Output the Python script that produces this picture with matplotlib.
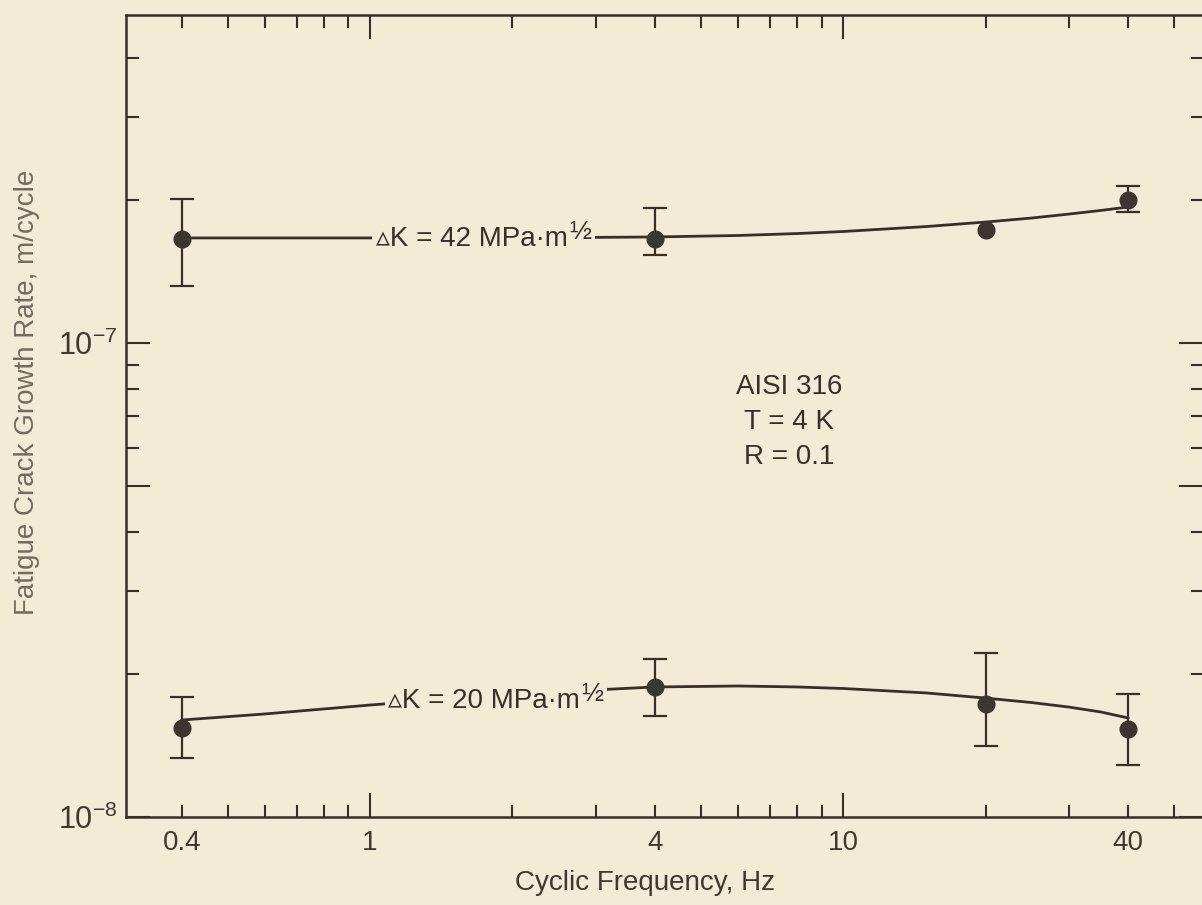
import numpy as np
import matplotlib.pyplot as plt
from matplotlib.ticker import FixedLocator, FuncFormatter, NullFormatter

plt.rcParams['font.family'] = ['Liberation Sans', 'DejaVu Sans']
plt.rcParams['mathtext.fontset'] = 'custom'
plt.rcParams['mathtext.rm'] = 'Liberation Sans'
plt.rcParams['mathtext.it'] = 'Liberation Sans:italic'

paper = '#f3ebd6'
ink = '#3b2d27'
dot = '#3d3530'

# measured points (Hz, m/cycle)
freq = [0.4, 4, 20, 40]

rate_42 = [1.66e-7, 1.66e-7, 1.73e-7, 2.00e-7]
rate_42_hi = [2.01e-7, 1.93e-7, np.nan, 2.14e-7]
rate_42_lo = [1.32e-7, 1.53e-7, np.nan, 1.89e-7]

rate_20 = [1.54e-8, 1.88e-8, 1.73e-8, 1.53e-8]
rate_20_hi = [1.79e-8, 2.15e-8, 2.22e-8, 1.82e-8]
rate_20_lo = [1.33e-8, 1.63e-8, 1.41e-8, 1.29e-8]

# hand-faired trend curves
fit_freq_42 = [0.4, 1, 2, 4, 6, 8, 10, 15, 20, 25, 30, 35, 40]
fit_rate_42 = [1.666e-7, 1.666e-7, 1.666e-7, 1.674e-7, 1.686e-7, 1.702e-7,
               1.719e-7, 1.761e-7, 1.800e-7, 1.835e-7, 1.871e-7, 1.904e-7,
               1.936e-7]
fit_freq_20 = [0.4, 0.6, 1, 2, 4, 6, 8, 10, 15, 20, 25, 30, 35, 40]
fit_rate_20 = [1.602e-8, 1.650e-8, 1.723e-8, 1.818e-8, 1.881e-8, 1.890e-8,
               1.881e-8, 1.867e-8, 1.827e-8, 1.782e-8, 1.744e-8, 1.706e-8,
               1.666e-8, 1.618e-8]

fig = plt.figure(figsize=(12.02, 9.05), dpi=100, facecolor=paper)
ax = fig.add_axes([0.1048, 0.0972, 0.8964, 0.8862], facecolor=paper)

for fx, fy in [(fit_freq_42, fit_rate_42), (fit_freq_20, fit_rate_20)]:
    ax.plot(fx, fy, color=ink, lw=2.0, solid_joinstyle='round',
            solid_capstyle='round', zorder=2)

for rate, hi, lo in [(rate_42, rate_42_hi, rate_42_lo),
                     (rate_20, rate_20_hi, rate_20_lo)]:
    rate = np.array(rate)
    yerr = [rate - np.array(lo), np.array(hi) - rate]
    ax.errorbar(freq, rate, yerr=yerr, fmt='o', color=dot, ecolor=ink,
                ms=12, elinewidth=1.6, capsize=8.5, capthick=1.6, zorder=3)

ax.set_xscale('log')
ax.set_yscale('log')
ax.set_xlim(0.305, 57.7)
ax.set_ylim(1e-8, 4.92e-7)

# x ticks: long ticks at decades, labels on 0.4, 4, 40
ax.xaxis.set_major_locator(FixedLocator([1, 10]))
ax.xaxis.set_major_formatter(FuncFormatter(lambda v, p: f'{v:g}'))
x_minor = [m * 10.0 ** e for e in (-1, 0, 1) for m in range(2, 10)]
ax.xaxis.set_minor_locator(FixedLocator(x_minor))
x_named = {0.4: '0.4', 4.0: '4', 40.0: '40'}
ax.xaxis.set_minor_formatter(
    FuncFormatter(lambda v, p: x_named.get(round(v, 3), '')))


def decade_label(v, p):
    e = np.log10(v)
    if abs(e - round(e)) < 1e-6:
        return r'$10^{%d}$' % round(e)
    return ''


# y ticks: long at decades and at 5e-8
ax.yaxis.set_major_locator(FixedLocator([1e-8, 5e-8, 1e-7]))
ax.yaxis.set_major_formatter(FuncFormatter(decade_label))
y_minor = [m * 1e-8 for m in (2, 3, 4, 6, 7, 8, 9)] + [m * 1e-7 for m in (2, 3, 4)]
ax.yaxis.set_minor_locator(FixedLocator(y_minor))
ax.yaxis.set_minor_formatter(NullFormatter())

ax.tick_params(which='both', direction='in', top=True, right=True,
               color=ink, width=1.5, labelcolor='#44372f', labelsize=20)
ax.tick_params(which='major', length=17)
ax.tick_params(which='minor', length=9)
ax.tick_params(axis='x', which='both', pad=9)
ax.tick_params(axis='y', which='both', pad=6, labelsize=22)

for side in ('left', 'bottom', 'top', 'right'):
    ax.spines[side].set_color(ink)
    ax.spines[side].set_linewidth(1.8)

ax.set_xlabel('Cyclic Frequency, Hz', fontsize=20, color='#44372f')
ax.xaxis.set_label_coords(0.482, -0.066)
ax.set_ylabel('Fatigue Crack Growth Rate, m/cycle', fontsize=20, color='#75695f')
ax.yaxis.set_label_coords(-0.08, 0.53)

# curve labels, drawn over a paper-coloured box to break the line
box = dict(facecolor=paper, edgecolor='none', pad=2.5)
for fx, fy, txt in [(1.64, 1.66e-7, '\u25b5K = 42 MPa\u00b7m'),
                    (1.74, 1.76e-8, '\u25b5K = 20 MPa\u00b7m')]:
    t = ax.text(fx, fy, txt, fontsize=20, color='#3a2e28', ha='center',
                va='center', bbox=box, zorder=4)
    ax.annotate('\u00bd', xy=(1.0, 0.3), xycoords=t, xytext=(1, 0),
                textcoords='offset points', fontsize=19, color='#3a2e28',
                ha='left', va='bottom', bbox=box, zorder=4)

ax.text(0.6156, 0.493, 'AISI 316\nT = 4 K\nR = 0.1', transform=ax.transAxes,
        fontsize=20, color='#3a2e28', ha='center', va='center',
        multialignment='center', linespacing=1.45)

fig.savefig('out.png', dpi=100, facecolor=paper)
